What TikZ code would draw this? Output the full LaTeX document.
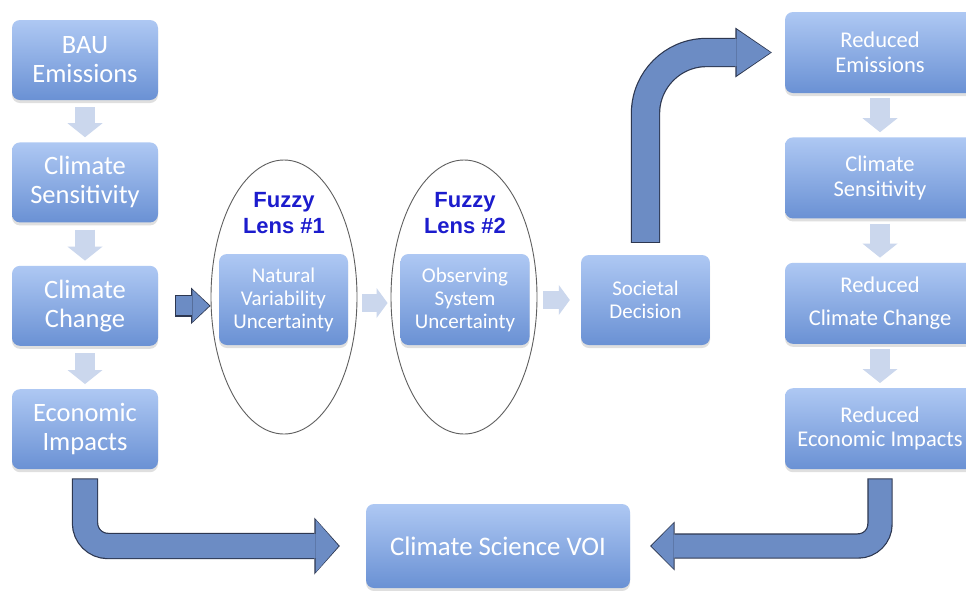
\documentclass[tikz,border=0pt]{standalone}
\usepackage{fontspec}
\setmainfont{Carlito}
\newfontfamily\lensfont{Liberation Sans}
\usetikzlibrary{arrows.meta, positioning, shapes.geometric, shadows}
\definecolor{boxtop}{RGB}{174,200,243}
\definecolor{boxbot}{RGB}{106,145,212}
\definecolor{arrowfill}{RGB}{108,140,196}
\definecolor{arrowedge}{RGB}{45,55,80}
\definecolor{flowlight}{RGB}{203,215,237}
\definecolor{lensblue}{RGB}{28,28,205}
\definecolor{lensedge}{RGB}{95,95,95}
\tikzset{box/.style={rectangle,rounded corners=8pt,align=center,text=white,top color=boxtop,bottom color=boxbot,inner sep=2pt,drop shadow={opacity=0.25,shadow xshift=0pt,shadow yshift=-3pt}},
colbox/.style={box,minimum width=146pt,minimum height=80pt,font=\fontsize{26.5}{29}\selectfont},
redbox/.style={box,minimum width=190pt,minimum height=81pt,font=\fontsize{22.5}{24.5}\selectfont},
midbox/.style={box,minimum width=129pt,minimum height=91pt,font=\fontsize{21}{23}\selectfont},
lens/.style={ellipse,draw=lensedge,line width=0.9pt,minimum width=146pt,minimum height=274pt,inner sep=0pt},
lenslabel/.style={align=center,text=lensblue,font=\lensfont\bfseries\fontsize{22}{26}\selectfont},
flow/.style={draw=flowlight,line width=20pt,-{Triangle[length=14pt,width=35pt,line width=0pt]}},
fatedge/.style={draw=arrowedge,rounded corners=#1},
fatfill/.style={draw=arrowfill,rounded corners=#1,shorten <=1pt,shorten >=1.3pt}}

\begin{document}
\begin{tikzpicture}[x=1pt,y=-1pt]
\useasboundingbox (0,0) rectangle (966,590);
\clip (0,0) rectangle (966,590);
\fill[white] (0,0) rectangle (966,590);
% business as usual column
\node[colbox] (bau) at (85,60) {BAU\\Emissions};
\node[colbox, below=42pt of bau] (sens) {Climate\\Sensitivity};
\node[colbox, below=43pt of sens] (chg) {Climate\\Change};
\node[colbox, below=43pt of chg] (econ) {Economic\\Impacts};
% the two lenses
\node[lens] (lens1) at (284,297) {};
\node[lens] (lens2) at (464,297) {};
\node[lenslabel] (fz1) at (284,213) {Fuzzy\\Lens \#1};
\node[lenslabel] (fz2) at (465,213) {Fuzzy\\Lens \#2};
\node[midbox] (nat) at (283.5,299.5) {Natural\\Variability\\Uncertainty};
\node[midbox] (obs) at (465,299.5) {Observing\\System\\Uncertainty};
\node[midbox, minimum height=90pt] (dec) at (645.5,300) {Societal\\Decision};
% reduced column
\node[redbox] (remis) at (880,52.5) {Reduced\\Emissions};
\node[redbox, below=44pt of remis] (rsens) {Climate\\Sensitivity};
\node[redbox, below=44pt of rsens] (rchg) {Reduced\\[9pt]Climate Change};
\node[redbox, below=44pt of rchg] (recon) {Reduced\\Economic Impacts};
\node[box, minimum width=264pt, minimum height=84pt, font=\fontsize{26.8}{30}\selectfont] (voi) at (498,546) {Climate Science VOI};

% light flow arrows
\draw[flow, shorten <=7pt, shorten >=5pt] (bau.south) -- (sens.north);
\draw[flow, shorten <=7pt, shorten >=5pt] (sens.south) -- (chg.north);
\draw[flow, shorten <=7pt, shorten >=5pt] (chg.south) -- (econ.north);
\draw[flow, shorten <=5pt, shorten >=5pt] (remis.south) -- (rsens.north);
\draw[flow, shorten <=5pt, shorten >=5pt] (rsens.south) -- (rchg.north);
\draw[flow, shorten <=5pt, shorten >=5pt] (rchg.south) -- (recon.north);
\draw[flow, line width=18pt, -{Triangle[length=11pt,width=30pt,line width=0pt]}, shorten <=5pt, shorten >=3pt] ([yshift=-6pt]lens1.east) -- ([yshift=-6pt]lens2.west);
\draw[flow, line width=18pt, -{Triangle[length=11pt,width=30pt,line width=0pt]}, shorten <=6pt, shorten >=11pt] (lens2.east |- dec.west) -- (dec.west);

% dark arrows
\draw[fatedge=0pt, line width=21.4pt, -{Triangle[length=19.5pt,width=36.5pt,line width=0pt]}, shorten <=17pt] (chg.east) -- (chg.east -| lens1.west);
\draw[fatfill=0pt, line width=19pt, -{Triangle[length=17pt,width=32.5pt,line width=0pt]}, shorten <=18pt] (chg.east) -- (chg.east -| lens1.west);
\draw[fatedge=61pt, line width=29.4pt, -{Triangle[length=36.5pt,width=50pt,line width=0pt]}] ([yshift=12pt]dec.north) |- ([xshift=-13pt]remis.west);
\draw[fatfill=61pt, line width=27pt, -{Triangle[length=34pt,width=46pt,line width=0pt]}] ([yshift=12pt]dec.north) |- ([xshift=-13pt]remis.west);
\draw[fatedge=23pt, line width=26.4pt, -{Triangle[length=25.5pt,width=57pt,line width=0pt]}] ([yshift=-9pt]econ.south) |- ([xshift=-26pt]voi.west);
\draw[fatfill=23pt, line width=24pt, -{Triangle[length=23pt,width=53pt,line width=0pt]}] ([yshift=-9pt]econ.south) |- ([xshift=-26pt]voi.west);
\draw[fatedge=22pt, line width=25.4pt, -{Triangle[length=24.5pt,width=49pt,line width=0pt]}] ([yshift=-9pt]recon.south) |- ([xshift=20pt]voi.east);
\draw[fatfill=22pt, line width=23pt, -{Triangle[length=22pt,width=45pt,line width=0pt]}] ([yshift=-9pt]recon.south) |- ([xshift=20pt]voi.east);
\end{tikzpicture}
\end{document}
